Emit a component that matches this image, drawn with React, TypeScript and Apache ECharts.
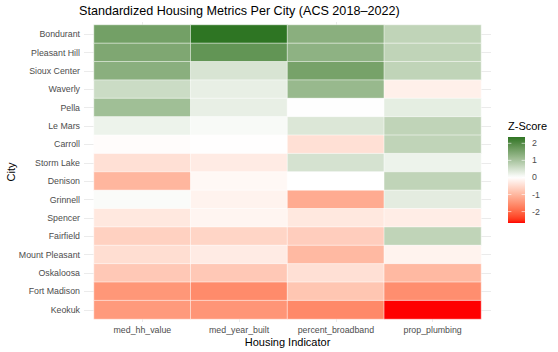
import React, { useEffect, useRef } from "react";
import * as echarts from "echarts";

const cities = [
  "Bondurant", "Pleasant Hill", "Sioux Center", "Waverly", "Pella", "Le Mars",
  "Carroll", "Storm Lake", "Denison", "Grinnell", "Spencer", "Fairfield",
  "Mount Pleasant", "Oskaloosa", "Fort Madison", "Keokuk",
];
const indicators = ["med_hh_value", "med_year_built", "percent_broadband", "prop_plumbing"];

const medHhValue = [1.62, 1.48, 1.35, 0.59, 1.09, 0.2, -0.04, -0.43, -1.02, 0.06, -0.32, -0.64, -0.47, -0.76, -1.43, -1.39];
const medYearBuilt = [2.37, 1.81, 0.45, 0.26, 0.26, 0.08, -0.01, -0.28, -0.1, -0.17, -0.14, -0.59, -0.28, -0.76, -1.58, -1.45];
const percentBroadband = [1.35, 1.3, 1.58, 1.19, 0.01, 0.4, -0.43, 0.48, 0.0, -1.16, -0.32, -0.69, -0.98, -0.43, -0.8, -1.6];
const propPlumbing = [0.72, 0.72, 0.72, -0.21, 0.29, 0.72, 0.72, 0.2, 0.72, 0.31, -0.26, 0.72, -0.17, -0.98, -1.54, -2.67];

const legendTicks = [2, 1, 0, -1, -2];

const FONT = "'Liberation Sans', Arial, sans-serif";

// ---- Lab colour interpolation (like scales::div_gradient_pal) ----
function toLin(c: number) {
  c /= 255;
  return c <= 0.04045 ? c / 12.92 : Math.pow((c + 0.055) / 1.055, 2.4);
}
function toSrgb(c: number) {
  c = Math.max(0, Math.min(1, c));
  const v = c <= 0.0031308 ? 12.92 * c : 1.055 * Math.pow(c, 1 / 2.4) - 0.055;
  return Math.round(Math.max(0, Math.min(1, v)) * 255);
}
const XN = 0.95047, YN = 1.0, ZN = 1.08883;
function rgbToLab(rgb: number[]) {
  const R = toLin(rgb[0]), G = toLin(rgb[1]), B = toLin(rgb[2]);
  const X = (0.4124 * R + 0.3576 * G + 0.1805 * B) / XN;
  const Y = (0.2126 * R + 0.7152 * G + 0.0722 * B) / YN;
  const Z = (0.0193 * R + 0.1192 * G + 0.9505 * B) / ZN;
  const f = (t: number) => (t > 0.008856 ? Math.cbrt(t) : 7.787 * t + 16 / 116);
  const fx = f(X), fy = f(Y), fz = f(Z);
  return [116 * fy - 16, 500 * (fx - fy), 200 * (fy - fz)];
}
function labToRgb(lab: number[]) {
  const fy = (lab[0] + 16) / 116;
  const fx = fy + lab[1] / 500;
  const fz = fy - lab[2] / 200;
  const finv = (t: number) => (t > 0.206893 ? t * t * t : (t - 16 / 116) / 7.787);
  const X = finv(fx) * XN, Y = finv(fy) * YN, Z = finv(fz) * ZN;
  const R = 3.2406 * X - 1.5372 * Y - 0.4986 * Z;
  const G = -0.9689 * X + 1.8758 * Y + 0.0415 * Z;
  const B = 0.0557 * X - 0.204 * Y + 1.057 * Z;
  return [toSrgb(R), toSrgb(G), toSrgb(B)];
}
const LAB_LOW = rgbToLab([255, 0, 0]);
const LAB_MID = rgbToLab([255, 255, 255]);
const LAB_HIGH = rgbToLab([0, 100, 0]);

const allValues = [...medHhValue, ...medYearBuilt, ...percentBroadband, ...propPlumbing];
const zMin = Math.min(...allValues);
const zMax = Math.max(...allValues);
const zAbs = Math.max(Math.abs(zMin), Math.abs(zMax));

function colorFor(v: number) {
  const t = Math.max(-1, Math.min(1, v / zAbs));
  const end = t >= 0 ? LAB_HIGH : LAB_LOW;
  const a = Math.abs(t);
  const lab = [0, 1, 2].map((k) => LAB_MID[k] + (end[k] - LAB_MID[k]) * a);
  const c = labToRgb(lab);
  return `rgb(${c[0]},${c[1]},${c[2]})`;
}

export default function App() {
  const ref = useRef<HTMLDivElement>(null);

  useEffect(() => {
    if (!ref.current) return;
    const chart = echarts.init(ref.current, null, { renderer: "svg" });

    const series = [medHhValue, medYearBuilt, percentBroadband, propPlumbing];
    const data: number[][] = [];
    series.forEach((vals, j) => {
      vals.forEach((v, i) => data.push([j, i, v]));
    });

    const N = 80;
    const stops: string[] = [];
    for (let k = 0; k <= N; k++) stops.push(colorFor(-zAbs + (2 * zAbs * k) / N));

    // legend colour bar
    const barX = 508, barW = 17, barTop = 137, barH = 86;
    const yOf = (v: number) => barTop + ((zMax - v) / (zMax - zMin)) * barH;
    const gStops: { offset: number; color: string }[] = [];
    const M = 40;
    for (let k = 0; k <= M; k++) {
      const v = zMax - ((zMax - zMin) * k) / M;
      gStops.push({ offset: k / M, color: colorFor(v) });
    }
    const legendEls: any[] = [
      {
        type: "text",
        left: barX,
        top: 120,
        style: { text: "Z-Score", fontSize: 11, fill: "#000", fontFamily: FONT },
      },
      {
        type: "rect",
        shape: { x: barX, y: barTop, width: barW, height: barH },
        style: { fill: new echarts.graphic.LinearGradient(0, 0, 0, 1, gStops) },
      },
    ];
    legendTicks.forEach((t) => {
      const y = yOf(t);
      legendEls.push({
        type: "line",
        shape: { x1: barX, y1: y, x2: barX + barW / 5, y2: y },
        style: { stroke: "#ffffff", lineWidth: 0.6 },
      });
      legendEls.push({
        type: "line",
        shape: { x1: barX + barW - barW / 5, y1: y, x2: barX + barW, y2: y },
        style: { stroke: "#ffffff", lineWidth: 0.6 },
      });
      legendEls.push({
        type: "text",
        x: 532,
        y: y,
        style: {
          text: String(t),
          fontSize: 8.8,
          fill: "#4d4d4d",
          fontFamily: FONT,
          verticalAlign: "middle",
          align: "left",
        },
      });
    });

    const tickStyle = { color: "#ebebeb", width: 1 };

    chart.setOption({
      animation: false,
      backgroundColor: "#ffffff",
      title: {
        text: "Standardized Housing Metrics Per City (ACS 2018\u20132022)",
        left: 79,
        top: 4,
        padding: 0,
        textStyle: { fontSize: 12.6, fontWeight: "normal", color: "#000", fontFamily: FONT },
      },
      grid: {
        left: 94,
        right: 77,
        top: 25,
        bottom: 33,
        containLabel: false,
        outerBoundsMode: "none",
      },
      xAxis: [
        {
          type: "category",
          data: indicators,
          position: "bottom",
          axisLine: { show: false },
          axisTick: { show: true, alignWithLabel: true, length: 3, lineStyle: tickStyle },
          axisLabel: { fontSize: 8.8, color: "#4d4d4d", margin: 6, interval: 0, fontFamily: FONT },
          splitLine: { show: false },
          name: "Housing Indicator",
          nameLocation: "middle",
          nameGap: 17,
          nameMoveOverlap: false,
          nameTextStyle: { fontSize: 11, color: "#000", fontFamily: FONT },
        },
        {
          type: "category",
          data: indicators,
          position: "top",
          axisLine: { show: false },
          axisTick: { show: true, alignWithLabel: true, length: 3, lineStyle: tickStyle },
          axisLabel: { show: false },
          splitLine: { show: false },
        },
      ],
      yAxis: [
        {
          type: "category",
          data: cities,
          inverse: true,
          position: "left",
          axisLine: { show: false },
          axisTick: { show: true, alignWithLabel: true, length: 10, lineStyle: tickStyle },
          axisLabel: { fontSize: 8.8, color: "#4d4d4d", margin: 14, interval: 0, fontFamily: FONT },
          splitLine: { show: false },
          name: "City",
          nameLocation: "middle",
          nameRotate: 90,
          nameGap: 78,
          nameMoveOverlap: false,
          nameTextStyle: { fontSize: 11, color: "#000", fontFamily: FONT },
        },
        {
          type: "category",
          data: cities,
          inverse: true,
          position: "right",
          axisLine: { show: false },
          axisTick: { show: true, alignWithLabel: true, length: 10, lineStyle: tickStyle },
          axisLabel: { show: false },
          splitLine: { show: false },
        },
      ],
      visualMap: {
        show: false,
        type: "continuous",
        min: -zAbs,
        max: zAbs,
        dimension: 2,
        seriesIndex: 0,
        inRange: { color: stops },
      },
      series: [
        {
          type: "heatmap",
          xAxisIndex: 0,
          yAxisIndex: 0,
          data,
          itemStyle: { borderColor: "rgba(255,255,255,0.85)", borderWidth: 0.6 },
          emphasis: { disabled: true },
        },
      ],
      graphic: legendEls,
    });

    return () => chart.dispose();
  }, []);

  return (
    <div
      ref={ref}
      style={{ position: "fixed", left: 0, top: 0, width: 558, height: 352 }}
    />
  );
}
